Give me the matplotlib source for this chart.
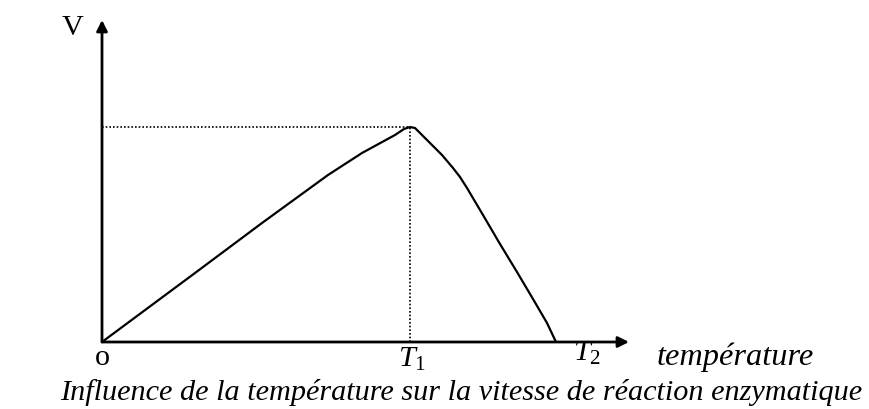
import matplotlib
matplotlib.use('Agg')
import matplotlib.pyplot as plt

# Curve (arbitrary units, origin at o)
temperature = [0, 93, 160, 226, 260, 293, 302, 308, 313, 325, 340, 351, 358, 365, 381, 398, 415, 431, 445, 454]
vitesse = [0, 69, 119, 167, 189, 207, 213, 215, 214, 202, 187, 174, 165, 154, 127, 98, 70, 43, 19, 0]
t1 = 308
v_max = 215
x_max = 527
y_max = 322

plt.rcParams['mathtext.fontset'] = 'custom'
plt.rcParams['mathtext.rm'] = 'Liberation Serif'
plt.rcParams['mathtext.it'] = 'Liberation Serif:italic'

W, H = 870, 409
fig = plt.figure(figsize=(W / 100, H / 100), dpi=100)
ax = fig.add_axes([102 / W, (H - 342) / H, (629 - 102) / W, (342 - 20) / H])
ax.set_xlim(0, x_max)
ax.set_ylim(0, y_max)
ax.axis('off')

# axes with arrows
arrow = dict(arrowstyle='-|>', lw=2, color='k', mutation_scale=16, shrinkA=0, shrinkB=0)
ax.annotate('', xy=(1, 0), xytext=(0, 0), xycoords='axes fraction', arrowprops=arrow)
ax.annotate('', xy=(0, 1), xytext=(0, 0), xycoords='axes fraction', arrowprops=arrow)

ax.plot(temperature, vitesse, color='k', lw=1.6, solid_joinstyle='round')
ax.plot([0, t1], [v_max, v_max], color='k', lw=1.2, ls=(0, (1, 1.2)))
ax.plot([t1, t1], [0, v_max], color='k', lw=1.2, ls=(0, (1, 1.2)))

font = 'Liberation Serif'
def txt(x, y, s, **kw):
    fig.text(x / W, 1 - y / H, s, family=font, ha='center', va='baseline', **kw)

fs = 21.8
txt(73, 35, 'V', fontsize=fs)
txt(102, 365, 'o', fontsize=fs)
txt(412, 367, r'$T_{\mathit{1}}$', fontsize=fs)
txt(587, 361, r'$T_{\mathit{2}}$', fontsize=fs)
txt(735, 365, 'température', fontsize=23.3, style='italic')
txt(461, 400, 'Influence de la température sur la vitesse de réaction enzymatique',
    fontsize=fs, style='italic')

fig.savefig('out.png', dpi=100)
